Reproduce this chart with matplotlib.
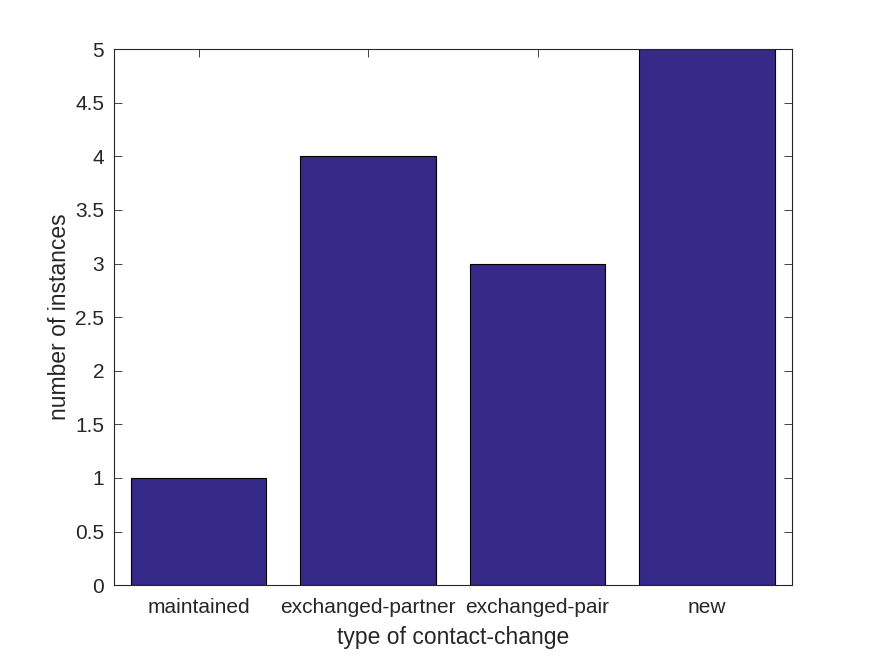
import matplotlib
matplotlib.use("Agg")
import matplotlib.pyplot as plt

categories = ["maintained", "exchanged-partner", "exchanged-pair", "new"]
counts = [1, 4, 3, 5]

plt.rcParams['font.family'] = ['Liberation Sans', 'DejaVu Sans']

fig = plt.figure(figsize=(8.75, 6.56), dpi=100)
ax = fig.add_axes([0.13, 0.108, 0.775, 0.817])

x = list(range(1, len(categories) + 1))
ax.bar(x, counts, width=0.8, color='#352a87', edgecolor='black', linewidth=0.8, zorder=2)

ax.set_xlim(0.5, 4.5)
ax.set_ylim(0, 5)
ax.set_xticks(x)
ax.set_xticklabels(categories)
ax.set_yticks([i * 0.5 for i in range(11)])
ax.set_yticklabels(["0", "0.5", "1", "1.5", "2", "2.5", "3", "3.5", "4", "4.5", "5"])

dark = '#262626'
for s in ax.spines.values():
    s.set_color(dark)
    s.set_linewidth(0.8)
    s.set_zorder(3)
ax.tick_params(direction='in', top=True, right=True, length=6, width=0.6,
               colors=dark, zorder=3)
for lbl in ax.get_xticklabels() + ax.get_yticklabels():
    lbl.set_color(dark)
    lbl.set_fontsize(15)
ax.tick_params(axis='x', pad=9)
ax.tick_params(axis='y', pad=7)

ax.set_xlabel("type of contact-change", fontsize=16.5, color=dark, labelpad=7)
ax.set_ylabel("number of instances", fontsize=16.5, color=dark, labelpad=3)

fig.savefig("out.png", dpi=100)
